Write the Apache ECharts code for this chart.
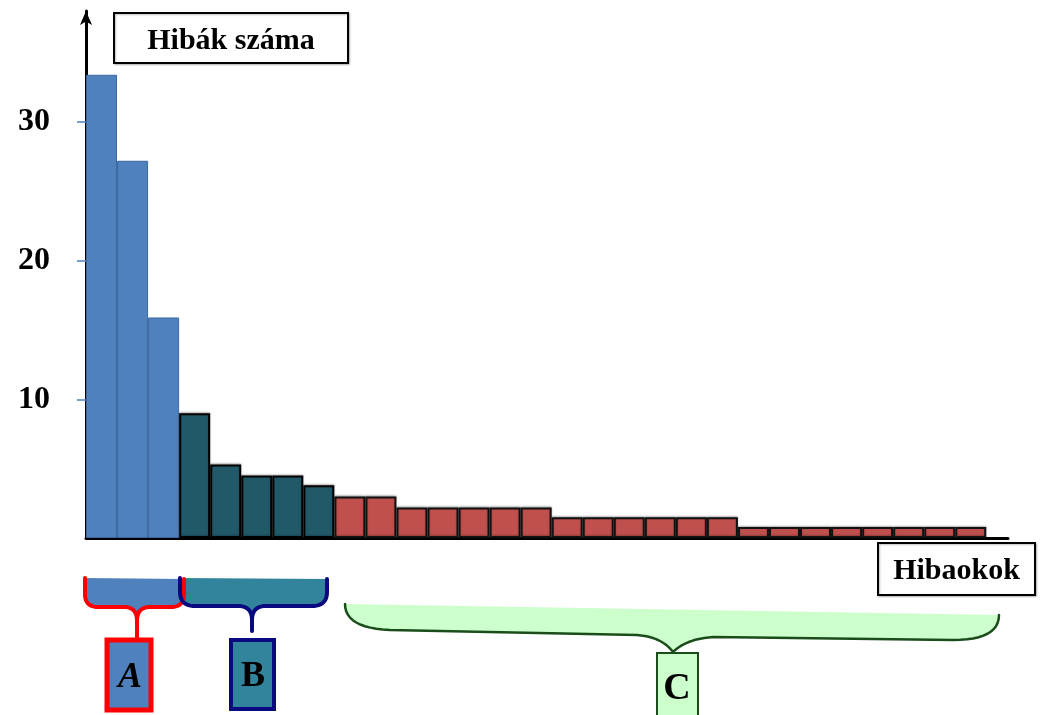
<!DOCTYPE html>
<html><head><meta charset="utf-8">
<script src="https://cdn.jsdelivr.net/npm/echarts@6.0.0/dist/echarts.min.js"></script>
<style>html,body{margin:0;padding:0;background:#fff}#chart{width:1043px;height:715px}</style>
</head><body><div id="chart"></div>
<script>
// ---- data ----
const yTickValues = [10, 20, 30];
const groupNames = ['A', 'B', 'C'];
const groupA = [33.4, 27.2, 15.9];
const groupB = [9.0, 5.3, 4.5, 4.5, 3.8];
const groupC = [3.0, 3.0, 2.2, 2.2, 2.2, 2.2, 2.2, 1.5, 1.5, 1.5, 1.5, 1.5, 1.5, 0.8, 0.8, 0.8, 0.8, 0.8, 0.8, 0.8, 0.8];
const yAxisTitle = 'Hibák száma';
const xAxisTitle = 'Hibaokok';

// ---- styles ----
const SERIF = '"Liberation Serif", "Times New Roman", serif';
const groupStyle = {
  A: { color: '#4F81BD', borderColor: '#3A67A0', borderWidth: 1 },
  B: { color: '#215968', borderColor: '#000000', borderWidth: 2, shadowColor: 'rgba(0,0,0,0.25)', shadowBlur: 2, shadowOffsetY: -1 },
  C: { color: '#C0504D', borderColor: '#111111', borderWidth: 2, shadowColor: 'rgba(0,0,0,0.25)', shadowBlur: 2, shadowOffsetY: -1 }
};

const groups = [groupA, groupB, groupC];
const barData = [];
let idx = 0;
groups.forEach((g, gi) => {
  g.forEach(v => {
    barData.push({ value: [idx + 0.5, v], itemStyle: groupStyle[groupNames[gi]] });
    idx++;
  });
});

// sample a simple M/L/Q path description into points (decoration only)
function samplePath(d) {
  const t = d.trim().split(/\s+/);
  const pts = [];
  let i = 0, cx = 0, cy = 0;
  while (i < t.length) {
    const c = t[i++];
    if (c === 'M' || c === 'L') {
      cx = +t[i++]; cy = +t[i++]; pts.push([cx, cy]);
    } else if (c === 'Q') {
      const qx = +t[i++], qy = +t[i++], ex = +t[i++], ey = +t[i++];
      for (let k = 1; k <= 12; k++) {
        const s = k / 12, u = 1 - s;
        pts.push([u * u * cx + 2 * u * s * qx + s * s * ex, u * u * cy + 2 * u * s * qy + s * s * ey]);
      }
      cx = ex; cy = ey;
    }
  }
  return pts;
}
function brace(d, fill, stroke, lw) {
  const pts = samplePath(d);
  return [
    { type: 'polygon', z: 100, shape: { points: pts }, style: { fill: fill, stroke: null } },
    { type: 'polyline', z: 101, shape: { points: pts }, style: { fill: null, stroke: stroke, lineWidth: lw, lineJoin: 'round', lineCap: 'round' } }
  ];
}

function textBox(x, y, w, h, text, dy) {
  return [
    { type: 'rect', shape: { x: x, y: y, width: w, height: h },
      style: { fill: '#fff', stroke: '#000', lineWidth: 2, shadowColor: 'rgba(0,0,0,0.25)', shadowOffsetX: 1, shadowOffsetY: 1, shadowBlur: 2 }, z: 100 },
    { type: 'text', x: x + w / 2, y: y + h / 2 + dy,
      style: { text: text, font: 'bold 30px ' + SERIF, fill: '#000', align: 'center', verticalAlign: 'middle' }, z: 101 }
  ];
}

const chart = echarts.init(document.getElementById('chart'), null, { renderer: 'canvas' });

const graphics = []
  .concat(textBox(114, 13, 234, 50, yAxisTitle, 3))
  .concat(textBox(878, 543, 157, 52, xAxisTitle, 2))
  .concat(brace('M 85 578 L 85 594 Q 85 607 98 607 L 124 607 Q 137 607 137 621 L 137 640 L 137 621 Q 137 607 150 607 L 171 607 Q 184 607 184 594 L 184 579', '#4F81BD', '#FF0000', 4))
  .concat([
    { type: 'rect', z: 100, shape: { x: 107, y: 640, width: 44, height: 70 },
      style: { fill: '#4F81BD', stroke: '#FF0000', lineWidth: 5 } },
    { type: 'text', z: 101, x: 130, y: 678,
      style: { text: groupNames[0], font: 'italic bold 36px ' + SERIF, fill: '#000', align: 'center', verticalAlign: 'middle' } }
  ])
  .concat(brace('M 180 578 L 180 592 Q 180 606 195 606 L 238 606 Q 252 606 252 620 L 252 631 L 252 620 Q 252 606 266 606 L 312 606 Q 327 606 327 592 L 327 579', '#31849B', '#0A0A80', 4))
  .concat([
    { type: 'rect', z: 100, shape: { x: 231, y: 640, width: 43, height: 69 },
      style: { fill: '#31849B', stroke: '#0A0A80', lineWidth: 4 } },
    { type: 'text', z: 101, x: 253, y: 677,
      style: { text: groupNames[1], font: 'bold 36px ' + SERIF, fill: '#000', align: 'center', verticalAlign: 'middle' } }
  ])
  .concat(brace('M 345 604 Q 345 628 390 630 L 637 635 Q 662 637 673 652 Q 686 639 713 637 L 953 640 Q 999 640 999 615', '#CCFFCC', '#1B4D1B', 2.5))
  .concat([
    { type: 'rect', z: 100, shape: { x: 657, y: 653, width: 41, height: 70 },
      style: { fill: '#CCFFCC', stroke: '#1B4D1B', lineWidth: 2 } },
    { type: 'text', z: 101, x: 677, y: 689,
      style: { text: groupNames[2], font: 'bold 38px ' + SERIF, fill: '#000', align: 'center', verticalAlign: 'middle' } }
  ]);

chart.setOption({
  backgroundColor: '#ffffff',
  animation: false,
  grid: { left: 86, right: 35, top: 11, bottom: 177, containLabel: false, outerBoundsMode: 'none' },
  xAxis: {
    type: 'value', min: 0, max: 29.7,
    axisLine: { show: true, onZero: false, lineStyle: { color: '#000', width: 3 } },
    axisTick: { show: false }, axisLabel: { show: false }, splitLine: { show: false }
  },
  yAxis: {
    type: 'value', min: 0, max: 38, interval: 10,
    axisLine: { show: true, symbol: ['none', 'arrow'], symbolSize: [9, 14], lineStyle: { color: '#000', width: 3 } },
    axisTick: { show: true, length: 9, customValues: yTickValues, lineStyle: { color: '#4F81BD', width: 1.5 } },
    axisLabel: { customValues: yTickValues, fontSize: 32, fontWeight: 'bold', fontFamily: SERIF, color: '#000', margin: 36 },
    splitLine: { show: false }
  },
  series: [{
    type: 'bar',
    data: barData,
    barWidth: '100%',
    barGap: '0%',
    barCategoryGap: '0%'
  }],
  graphic: { elements: graphics }
});
</script></body></html>
